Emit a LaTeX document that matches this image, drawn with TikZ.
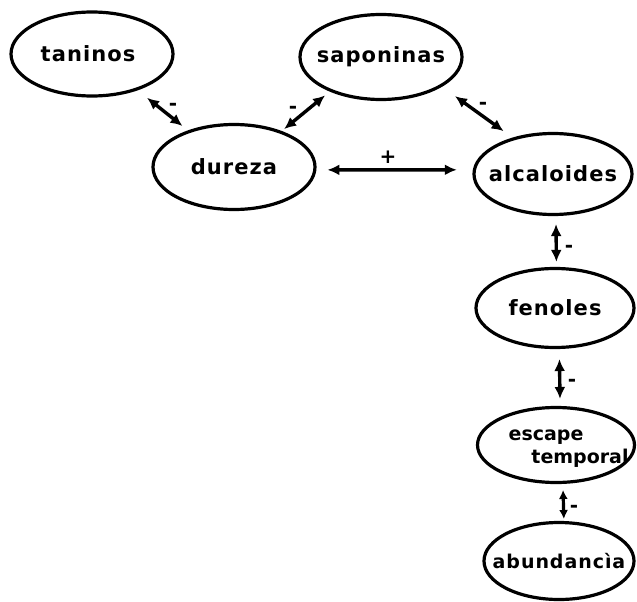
\documentclass[tikz,border=0pt]{standalone}
\usepackage{fontspec}
\setmainfont{DejaVu Sans}
\newfontfamily\lblfont{DejaVu Sans Bold}[LetterSpace=5]
\newfontfamily\lblfonttight{DejaVu Sans Bold}[LetterSpace=0]
\newcommand\lblsize[1]{\fontsize{#1}{#1}\selectfont}
\usetikzlibrary{arrows.meta,shapes.geometric}
\tikzset{
  oval/.style={ellipse, draw, line width=3.2pt, inner sep=0pt,
    font=\lblfont\lblsize{21}},
  link/.style={line width=3.4pt,
    {Latex[length=12pt,width=11pt]}-{Latex[length=12pt,width=11pt]}},
  sign/.style={font=\lblfont\lblsize{20}, inner sep=0pt}
}
\begin{document}
\begin{tikzpicture}[x=1pt,y=-1pt]
\useasboundingbox (0,0) rectangle (637,602);
% nodes
\node[oval, minimum width=162pt, minimum height=84pt] (taninos) at (92,54) {\makebox[0pt]{\hspace{-8pt}taninos}};
\node[oval, minimum width=162pt, minimum height=85pt] (dureza) at (234,167) {\makebox[0pt]{dureza}};
\node[oval, minimum width=162pt, minimum height=85pt] (saponinas) at (381,57) {\makebox[0pt]{saponinas}};
\node[oval, minimum width=158pt, minimum height=81pt] (alcaloides) at (553,174) {\makebox[0pt]{alcaloides}};
\node[oval, minimum width=158pt, minimum height=79pt] (fenoles) at (555,308) {\makebox[0pt]{fenoles}};
\node[oval, minimum width=157pt, minimum height=75pt,
  label={[xshift=-10pt,yshift=8pt,font=\lblfonttight\lblsize{19}]center:escape},
  label={[xshift=24pt,yshift=-13pt,font=\lblfonttight\lblsize{19}]center:temporal}]
  (escape) at (556,445) {\makebox[0pt]{}};
\node[oval, minimum width=150pt, minimum height=77pt, font=\lblfont\lblsize{19}] (abundancia) at (559,561) {\makebox[0pt]{abundancìa}};
% connectors
\draw[link, shorten <=12pt, shorten >=7pt] (taninos) -- (dureza);
\draw[link, shorten <=6pt, shorten >=3pt] (saponinas.-146) -- (dureza.37);
\draw[link, shorten <=16pt, shorten >=11pt] (saponinas.-26) -- (alcaloides.138);
\draw[link, shorten <=11pt, shorten >=16pt] (dureza.-2) -- (alcaloides.177);
\draw[link, shorten <=8pt, shorten >=5pt] (alcaloides.-86) -- (fenoles.88);
\draw[link, shorten <=10pt, shorten >=7pt] (fenoles.-84) -- (escape.84);
\draw[line width=3.2pt, {Latex[length=9pt,width=9pt]}-{Latex[length=9pt,width=9pt]}, shorten <=6pt, shorten >=2pt] (escape.-80) -- (abundancia.83);
% signs
\node[sign] (s1) at (173,107) {-};
\node[sign] (s2) at (293,110) {-};
\node[sign] (s3) at (483,106) {-};
\node[sign] (s4) at (388,157) {+};
\node[sign] (s5) at (569,249) {-};
\node[sign] (s6) at (572,383) {-};
\node[sign] (s7) at (574,509) {-};
\end{tikzpicture}
\end{document}
